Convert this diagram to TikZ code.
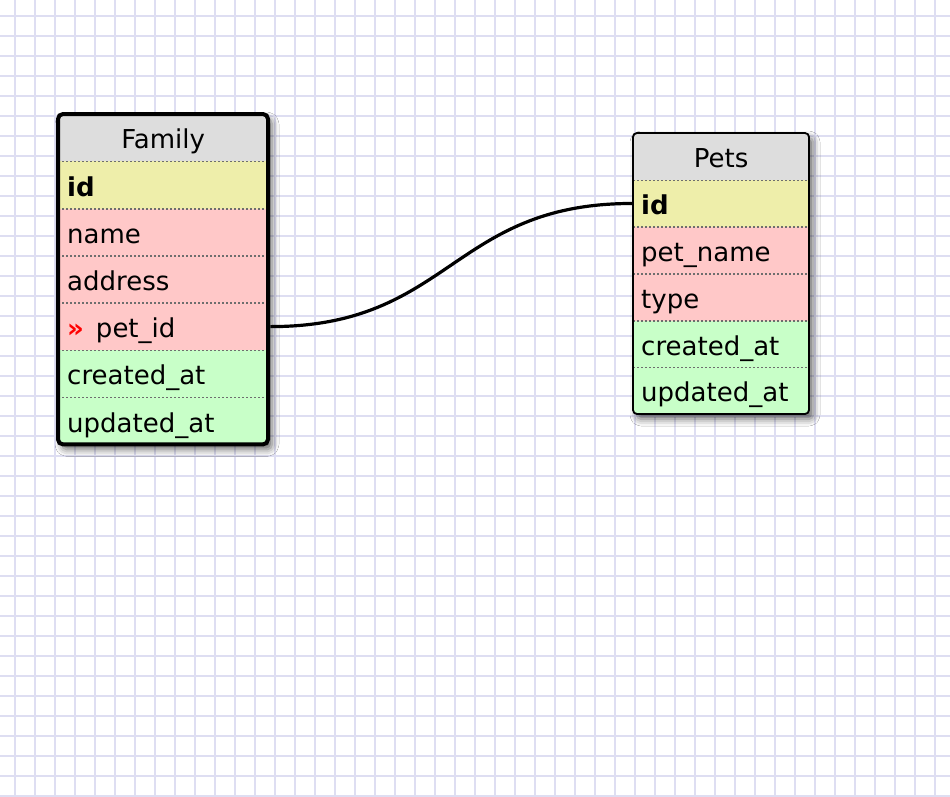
\documentclass[tikz,border=0pt]{standalone}
\usepackage{fontspec}
\setmainfont{DejaVu Sans}
\usetikzlibrary{shadows.blur}
\definecolor{gridc}{RGB}{222,222,242}
\definecolor{hdrc}{RGB}{221,221,221}
\definecolor{keyc}{RGB}{238,238,170}
\definecolor{redc}{RGB}{255,200,200}
\definecolor{grnc}{RGB}{200,255,200}
\definecolor{sepc}{RGB}{110,110,110}
\begin{document}
\begin{tikzpicture}[x=1pt,y=-1pt,
  txt/.style={font=\fontsize{26}{29}\selectfont},
  famrow/.style={rectangle, anchor=north west, inner xsep=9pt, inner ysep=0pt,
    minimum height=47.2pt, text width=192pt, text height=26pt, text depth=4pt, align=left, txt},
  petrow/.style={rectangle, anchor=north west, inner xsep=8pt, inner ysep=0pt,
    minimum height=46.85pt, text width=160pt, text height=26pt, text depth=4pt, align=left, txt},
  famhdr/.style={famrow, align=center},
  pethdr/.style={petrow, align=center},
  sep/.style={draw=sepc, line width=1.5pt, dash pattern=on 2pt off 2pt},
  tshadow/.style={blur shadow={shadow xshift=4pt, shadow yshift=-5pt, shadow blur radius=7pt, shadow opacity=60}},
  link/.style={line width=3.2pt, black}
]
% background and grid
\fill[white] (0,0) rectangle (950,796);
\useasboundingbox (0,0) rectangle (950,796);
\foreach \gx in {15,35,...,950} \draw[gridc, line width=2pt] (\gx,0) -- (\gx,796);
\foreach \gy in {16,36,...,796} \draw[gridc, line width=2pt] (0,\gy) -- (950,\gy);

% ---------- Family table ----------
\path[tshadow, fill=white, rounded corners=5pt] (58,114) rectangle (268,444.4);
\begin{scope}
\clip[rounded corners=5pt] (58,114) rectangle (268,444.4);
\node[famhdr, fill=hdrc] (fhdr) at (58,114) {Family};
\node[famrow, fill=keyc] (fid) at (58,161.2) {\textbf{id}};
\node[famrow, fill=redc] (fname) at (58,208.4) {name};
\node[famrow, fill=redc] (faddr) at (58,255.6) {address};
\node[famrow, fill=redc] (fpet) at (58,302.8) {\textcolor{red}{\textbf{»}}\hspace{12pt}pet\_id};
\node[famrow, fill=grnc] (fcre) at (58,350) {created\_at};
\node[famrow, fill=grnc] (fupd) at (58,397.2) {updated\_at};
\end{scope}
\foreach \a in {fhdr,fid,fname,faddr,fpet,fcre}
  \draw[sep] (\a.south west) -- (\a.south east);
\draw[line width=4pt, rounded corners=5pt] (58,114) rectangle (268,444.4);

% ---------- Pets table ----------
\path[tshadow, fill=white, rounded corners=4pt] (633,133) rectangle (809,414);
\begin{scope}
\clip[rounded corners=4pt] (633,133) rectangle (809,414);
\node[pethdr, fill=hdrc] (phdr) at (633,133) {Pets};
\node[petrow, fill=keyc] (pid) at (633,179.85) {\textbf{id}};
\node[petrow, fill=redc] (pname) at (633,226.7) {pet\_name};
\node[petrow, fill=redc] (ptype) at (633,273.55) {type};
\node[petrow, fill=grnc] (pcre) at (633,320.4) {created\_at};
\node[petrow, fill=grnc] (pupd) at (633,367.25) {updated\_at};
\end{scope}
\foreach \a in {phdr,pid,pname,ptype,pcre}
  \draw[sep] (\a.south west) -- (\a.south east);
\draw[line width=1.8pt, rounded corners=4pt] (633,133) rectangle (809,414);

% ---------- connector ----------
\draw[link] ([xshift=2pt]fpet.east) .. controls +(180,0) and +(-180,0) .. ([xshift=-1pt]pid.west);
\end{tikzpicture}
\end{document}
